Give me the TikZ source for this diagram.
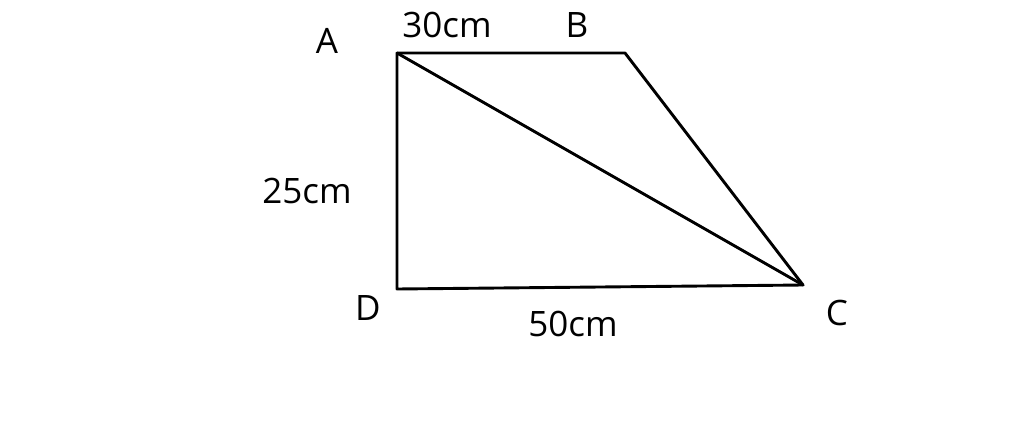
\documentclass[tikz,border=0pt]{standalone}
\usepackage{fontspec}
\setmainfont{Open Sans}

\begin{document}
\begin{tikzpicture}[x=1pt, y=-1pt,
    edge/.style={black, line width=2.9pt, line join=round, line cap=round},
    lbl/.style={inner sep=0pt, font=\fontsize{35}{38}\selectfont}]

  % Canvas of the reference size
  \useasboundingbox (0,0) rectangle (1024,428);

  % Corners of the trapezoid
  \coordinate (A) at (397,53);
  \coordinate (B) at (625,53);
  \coordinate (C) at (803,285);
  \coordinate (D) at (397,289);

  % Sides and diagonal
  \draw[edge] (A) -- (B) -- (C) -- (D) -- cycle;
  \draw[edge] (A) -- (C);

  % Corner letters
  \node[lbl] (labA) at (327,41) {A};
  \node[lbl] (labB) at (577,25) {B};
  \node[lbl] (labC) at (837,313) {C};
  \node[lbl] (labD) at (368,308) {D};

  % Lengths
  \node[lbl] (lenAB) at (447,25) {30cm};
  \node[lbl] (lenAD) at (307,191) {25cm};
  \node[lbl] (lenDC) at (573,324) {50cm};

\end{tikzpicture}
\end{document}
